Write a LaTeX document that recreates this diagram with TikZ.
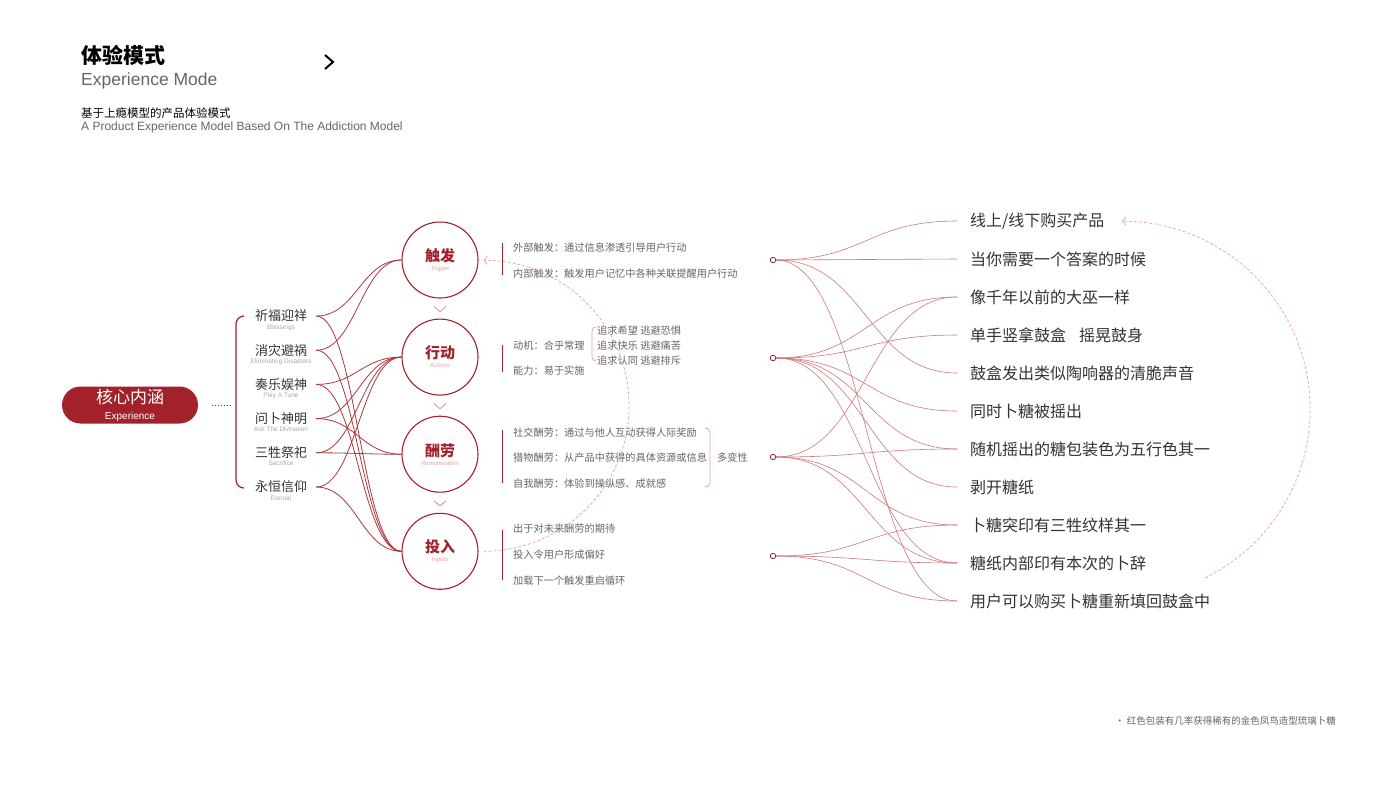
\documentclass[tikz,border=0pt]{standalone}
\usepackage{fontspec}
\setmainfont{Noto Sans CJK SC}
\newfontfamily\en{Liberation Sans}
\usepackage{tikz}
\usetikzlibrary{arrows.meta,positioning}
\definecolor{redmain}{HTML}{A3212A}
\definecolor{redline}{HTML}{C4565C}
\definecolor{redpale}{HTML}{E7A3A6}
\definecolor{textdark}{HTML}{333333}
\definecolor{textgrey}{HTML}{666666}
\definecolor{textpale}{HTML}{AAAAAA}
\tikzstyle{core} = [rectangle, rounded corners=18.5pt, fill=redmain, text=white,
                    minimum width=136pt, minimum height=37pt, align=center,
                    inner sep=0pt, font=\fontsize{17}{17}\selectfont]
\tikzstyle{stage} = [circle, draw=redmain, line width=1.1pt, fill=white,
                     minimum size=76pt, inner sep=0pt, align=center]
\tikzstyle{item} = [text=textdark, font=\fontsize{13}{14}\selectfont,
                    inner xsep=9pt, inner ysep=1pt]
\tikzstyle{subtext} = [text=textpale, font=\en\fontsize{6.5}{7}\selectfont, inner sep=1pt]
\tikzstyle{ritem} = [anchor=west, text=textdark, font=\fontsize{16}{18}\selectfont,
                     inner xsep=13pt, inner ysep=2pt]
\tikzstyle{desc} = [anchor=west, text=textgrey, font=\fontsize{10.2}{15}\selectfont,
                    inner sep=0pt, align=left]
\tikzstyle{hubdot} = [circle, draw=redmain, fill=white, line width=0.8pt,
                      inner sep=0pt, minimum size=5.5pt]
\tikzstyle{link} = [draw=redmain!90, line width=0.8pt]
\tikzstyle{rlink} = [draw=redline!80, line width=0.6pt]
\tikzstyle{stagebar} = [draw=redmain, line width=1pt]
\tikzstyle{chev} = [draw=redmain!60, line width=0.6pt]
\tikzstyle{cycleline} = [draw=redpale, dash pattern=on 3pt off 2pt, line width=0.7pt,
                         -{Straight Barb[length=3.5pt,width=8pt]}]
\newcommand{\stagetext}[2]{{\fontsize{15}{17}\selectfont\bfseries\color{redmain}#1}\\[-3pt]{\en\fontsize{6}{7}\selectfont\color{redpale}#2}}

\begin{document}
\begin{tikzpicture}[x=1pt, y=-1pt]
    \useasboundingbox (0,0) rectangle (1400,788);
    \fill[white] (0,0) rectangle (1400,788);

    % title
    \node [anchor=west, inner sep=0pt, font=\fontsize{21}{22}\selectfont\bfseries] (title) at (81,55) {体验模式};
    \node [anchor=west, inner sep=0pt, text=textgrey, font=\en\fontsize{17.5}{18}\selectfont] (titleen) at (81,81) {Experience Mode};
    \draw [line width=2pt] (325,55) -- (333,62) -- (325,69);
    \node [anchor=west, inner sep=0pt, font=\fontsize{11.5}{12}\selectfont] (subtitle) at (81,113) {基于上瘾模型的产品体验模式};
    \node [anchor=west, inner sep=0pt, text=textgrey, font=\en\fontsize{12}{12}\selectfont] (subtitleen) at (81,127) {A Product Experience Model Based On The Addiction Model};

    % core and its brace
    \node [core] (core) at (130,405) {核心内涵\\[-1pt]{\en\fontsize{10}{10}\selectfont Experience}};
    \coordinate (bracepoint) at (233,405);
    \draw [redmain, dotted, line width=1pt] ([xshift=14pt]core.east) -- (bracepoint);
    \draw [redmain, line width=1.2pt] (244,316) to[out=180,in=90] (236,324) -- (236,480) to[out=-90,in=180] (244,488);

    % left items
    \foreach \zh/\eng [count=\i] in {祈福迎祥/Blessings, 消灾避祸/Eliminating Disasters, 奏乐娱神/Play A Tune,
                                     问卜神明/Ask The Divination, 三牲祭祀/Sacrifice, 永恒信仰/Eternal}
      \node [item, label={[subtext]below:\eng}] (l\i) at (281,{316+34.2*(\i-1)}) {\zh};

    % stages
    \node [stage] (trig) at (440,260) {\stagetext{触发}{Trigger}};
    \node [stage, below=20pt of trig] (act) {\stagetext{行动}{Actions}};
    \node [stage, below=20pt of act] (rew) {\stagetext{酬劳}{Remuneration}};
    \node [stage, below=20pt of rew] (inv) {\stagetext{投入}{Inputs}};
    \foreach \a in {trig, act, rew}
      \draw [chev] ([xshift=-6pt,yshift=-8pt]\a.south) -- ([yshift=-13pt]\a.south) -- ([xshift=6pt,yshift=-8pt]\a.south);

    \foreach \a/\b in {l1/trig, l1/inv, l2/trig, l2/inv, l3/act, l3/inv,
                       l4/act, l4/rew, l5/act, l5/rew, l6/act, l6/inv}
      \draw [link] (\a.east) .. controls +(40,0) and +(-40,0) .. (\b.west);

    % stage notes
    \draw [stagebar] (502,243) -- (502,275);
    \node [desc] (trigA) at (513,248) {外部触发：通过信息渗透引导用户行动};
    \node [desc] (trigB) at (513,274) {内部触发：触发用户记忆中各种关联提醒用户行动};

    \draw [stagebar] (502,345) -- (502,372);
    \node [desc] (actA) at (513,346) {动机：合乎常理};
    \node [desc] (actB) at (513,371) {能力：易于实施};
    \draw [redpale, line width=0.8pt] (596,327) to[out=180,in=90] (592,331) -- (592,357) to[out=-90,in=180] (596,361);
    \node [desc] (motive) at (597,346) {追求希望 逃避恐惧\\追求快乐 逃避痛苦\\追求认同 逃避排斥};

    \draw [stagebar] (502,430) -- (502,483);
    \node [desc] (rewA) at (513,433) {社交酬劳：通过与他人互动获得人际奖励};
    \node [desc] (rewB) at (513,458) {猎物酬劳：从产品中获得的具体资源或信息};
    \node [desc] (rewC) at (513,484) {自我酬劳：体验到操纵感、成就感};
    \draw [redpale, line width=0.8pt] (705,428) to[out=0,in=90] (710,432) -- (710,483) to[out=-90,in=0] (705,487);
    \node [desc] (vary) at (717,458) {多变性};

    \draw [stagebar] (502,530) -- (502,580);
    \node [desc] (invA) at (513,529) {出于对未来酬劳的期待};
    \node [desc] (invB) at (513,555) {投入令用户形成偏好};
    \node [desc] (invC) at (513,581) {加载下一个触发重启循环};

    % hubs and right items
    \node [hubdot] (d1) at (773,260) {};
    \node [hubdot] (d2) at (773,358) {};
    \node [hubdot] (d3) at (773,457) {};
    \node [hubdot] (d4) at (773,556) {};
    \foreach \t [count=\i] in {线上/线下购买产品, 当你需要一个答案的时候, 像千年以前的大巫一样,
                               {单手竖拿鼓盒\hspace{0.8em}摇晃鼓身}, 鼓盒发出类似陶响器的清脆声音, 同时卜糖被摇出,
                               随机摇出的糖包装色为五行色其一, 剥开糖纸, 卜糖突印有三牲纹样其一,
                               糖纸内部印有本次的卜辞, 用户可以购买卜糖重新填回鼓盒中}
      \node [ritem] (r\i) at (957,{221+38*(\i-1)}) {\t};

    \foreach \a/\b in {d1/r1, d1/r2, d1/r5, d1/r11, d2/r3, d2/r4, d2/r6, d2/r7, d2/r8, d2/r10,
                       d3/r3, d3/r7, d3/r9, d3/r10, d4/r9, d4/r10, d4/r11}
      \draw [rlink] (\a.east) .. controls +(90,0) and +(-90,0) .. (\b.west);

    % cycles
    \draw [cycleline] ([xshift=5pt]inv.east) arc[start angle=-90, end angle=90, radius=145.5pt];
    \coordinate (cyclestart) at (1205,578);
    \draw [cycleline] (cyclestart) arc[start angle=-63.8, end angle=90, radius=188.1pt];

    % note
    \node [anchor=east, inner sep=0pt, text=textgrey, font=\fontsize{9.5}{10}\selectfont] (note) at (1336,721) {· 红色包装有几率获得稀有的金色凤鸟造型琉璃卜糖};
  \end{tikzpicture}
\end{document}
